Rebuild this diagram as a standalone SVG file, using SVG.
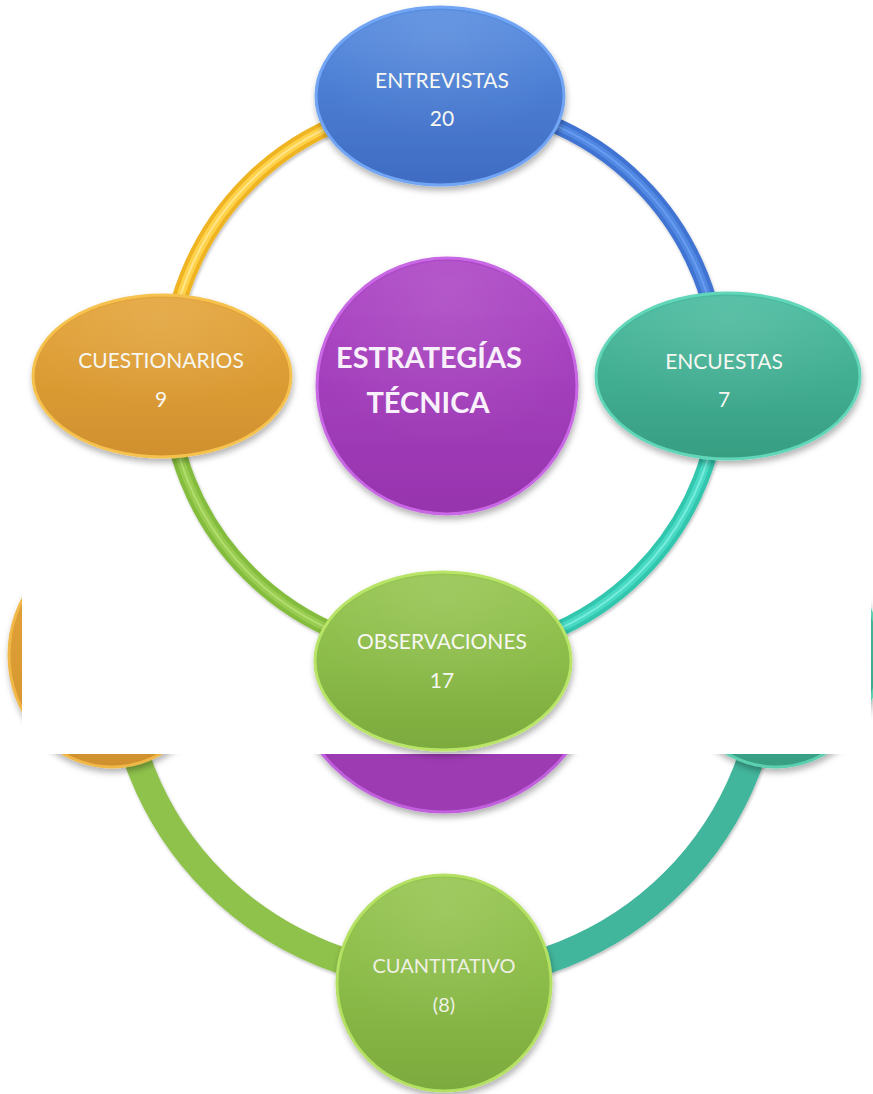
<svg xmlns="http://www.w3.org/2000/svg" width="873" height="1094" viewBox="0 0 873 1094">
<defs>
<filter id="sh" x="-20%" y="-20%" width="140%" height="150%"><feDropShadow dx="1" dy="4" stdDeviation="3" flood-color="#000" flood-opacity="0.3"/></filter>
<filter id="ash" x="-20%" y="-20%" width="140%" height="140%"><feDropShadow dx="1" dy="2" stdDeviation="1.5" flood-color="#000" flood-opacity="0.25"/></filter>
<linearGradient id="gBlue" x1="0" y1="0" x2="0" y2="1"><stop offset="0" stop-color="#5a8ee0"/><stop offset="0.5" stop-color="#4a7cd2"/><stop offset="1" stop-color="#3f6cc2"/></linearGradient>
<linearGradient id="gOrange" x1="0" y1="0" x2="0" y2="1"><stop offset="0" stop-color="#e4a53c"/><stop offset="0.5" stop-color="#dc9c34"/><stop offset="1" stop-color="#d0902e"/></linearGradient>
<linearGradient id="gTeal" x1="0" y1="0" x2="0" y2="1"><stop offset="0" stop-color="#4cbca0"/><stop offset="0.5" stop-color="#42ae92"/><stop offset="1" stop-color="#379e82"/></linearGradient>
<linearGradient id="gPurple" x1="0" y1="0" x2="0" y2="1"><stop offset="0" stop-color="#ae48c6"/><stop offset="0.5" stop-color="#a33ebb"/><stop offset="1" stop-color="#9634ad"/></linearGradient>
<linearGradient id="gGreen" x1="0" y1="0" x2="0" y2="1"><stop offset="0" stop-color="#97c653"/><stop offset="0.5" stop-color="#8bbb48"/><stop offset="1" stop-color="#7caa3e"/></linearGradient>
<radialGradient id="gloss" cx="0.5" cy="0.15" r="0.6"><stop offset="0" stop-color="#fff" stop-opacity="0.1"/><stop offset="1" stop-color="#fff" stop-opacity="0"/></radialGradient>
</defs>
<style>
.lbl{font-family:Lato,"Liberation Sans",sans-serif;font-size:21px;fill:#f7f7f2;text-anchor:middle}
.lbl2{font-family:Lato,"Liberation Sans",sans-serif;font-size:20px;fill:#eef0e4;text-anchor:middle}
.big{font-family:Lato,"Liberation Sans",sans-serif;font-size:29px;font-weight:bold;fill:#f8f0fa;text-anchor:middle}
.node{filter:url(#sh)}
.gl{fill:url(#gloss)}
.tube{fill:none;filter:url(#ash)}
.flat{fill:none;stroke-width:27;filter:url(#ash)}
</style>
<rect width="873" height="1094" fill="#ffffff"/>

<!-- lower (partially hidden) diagram -->
<g id="connectors-lower">
<path class="flat" d="M 119 652 A 325 325 0 0 0 444 977" stroke="#8fc24b"/>
<path class="flat" d="M 444 977 A 325 325 0 0 0 769 652" stroke="#43b69c"/>
</g>
<g id="node-lower-left"><ellipse class="node" cx="112" cy="655" rx="103" ry="112" fill="url(#gOrange)" stroke="#f0b848" stroke-width="3"/></g>
<g id="node-lower-right"><ellipse class="node" cx="776" cy="655" rx="103" ry="112" fill="url(#gTeal)" stroke="#5ccfb0" stroke-width="3"/></g>
<g id="node-lower-center"><ellipse class="node" cx="444" cy="652" rx="158" ry="160" fill="#9c3ab2" stroke="#c060dc" stroke-width="3"/></g>
<g id="node-cuantitativo">
<ellipse class="node" cx="444" cy="983" rx="107" ry="108" fill="url(#gGreen)" stroke="#b4e064" stroke-width="3"/>
<ellipse class="gl" cx="444" cy="983" rx="104" ry="105"/>
<text class="lbl2" x="444" y="973">CUANTITATIVO</text>
<text class="lbl2" x="444" y="1012">(8)</text>
</g>

<!-- upper diagram on its white sheet -->
<rect id="sheet" x="22" y="0" width="849" height="754" fill="#ffffff"/>

<g id="connectors">
<g id="arc-cuestionarios-entrevistas">
<path class="tube" d="M 168 378 A 276 276 0 0 1 444 102" stroke="#efb424" stroke-width="16"/>
<path fill="none" d="M 168 378 A 276 276 0 0 1 444 102" stroke="#ffd24a" stroke-width="8"/>
<path fill="none" d="M 168 378 A 276 276 0 0 1 444 102" stroke="#ffe68c" stroke-width="2"/>
</g>
<g id="arc-entrevistas-encuestas">
<path class="tube" d="M 444 102 A 276 276 0 0 1 720 378" stroke="#3f73d2" stroke-width="16"/>
<path fill="none" d="M 444 102 A 276 276 0 0 1 720 378" stroke="#5088e2" stroke-width="8"/>
<path fill="none" d="M 444 102 A 276 276 0 0 1 720 378" stroke="#6a9cf0" stroke-width="2"/>
</g>
<g id="arc-encuestas-observaciones">
<path class="tube" d="M 720 378 A 276 276 0 0 1 444 654" stroke="#30c6ae" stroke-width="16"/>
<path fill="none" d="M 720 378 A 276 276 0 0 1 444 654" stroke="#48dac4" stroke-width="8"/>
<path fill="none" d="M 720 378 A 276 276 0 0 1 444 654" stroke="#7aecdc" stroke-width="2"/>
</g>
<g id="arc-observaciones-cuestionarios">
<path class="tube" d="M 444 654 A 276 276 0 0 1 168 378" stroke="#84bc3c" stroke-width="16"/>
<path fill="none" d="M 444 654 A 276 276 0 0 1 168 378" stroke="#98cc50" stroke-width="8"/>
<path fill="none" d="M 444 654 A 276 276 0 0 1 168 378" stroke="#b2de70" stroke-width="2"/>
</g>
</g>

<g id="node-entrevistas">
<ellipse class="node" cx="440" cy="96" rx="124" ry="89" fill="url(#gBlue)" stroke="#72a6f4" stroke-width="3"/>
<ellipse class="gl" cx="440" cy="96" rx="121" ry="86"/>
<text class="lbl" x="442" y="88">ENTREVISTAS</text>
<text class="lbl" x="442" y="126">20</text>
</g>
<g id="node-cuestionarios">
<ellipse class="node" cx="162" cy="376" rx="129" ry="81" fill="url(#gOrange)" stroke="#f6c250" stroke-width="3"/>
<ellipse class="gl" cx="162" cy="376" rx="126" ry="78"/>
<text class="lbl" x="161" y="368">CUESTIONARIOS</text>
<text class="lbl" x="161" y="407">9</text>
</g>
<g id="node-encuestas">
<ellipse class="node" cx="728" cy="376" rx="132" ry="83" fill="url(#gTeal)" stroke="#62d6b8" stroke-width="3"/>
<ellipse class="gl" cx="728" cy="376" rx="129" ry="80"/>
<text class="lbl" x="724" y="369">ENCUESTAS</text>
<text class="lbl" x="724" y="407">7</text>
</g>
<g id="node-estrategias">
<ellipse class="node" cx="447" cy="386" rx="130" ry="128" fill="url(#gPurple)" stroke="#c868e4" stroke-width="3"/>
<ellipse class="gl" cx="447" cy="386" rx="127" ry="125"/>
<text class="big" x="429" y="368">ESTRATEGÍAS</text>
<text class="big" x="428" y="413">TÉCNICA</text>
</g>
<g id="node-observaciones">
<ellipse class="node" cx="443" cy="661" rx="128" ry="89" fill="url(#gGreen)" stroke="#b8e468" stroke-width="3"/>
<ellipse class="gl" cx="443" cy="661" rx="125" ry="86"/>
<text class="lbl" x="442" y="649">OBSERVACIONES</text>
<text class="lbl" x="442" y="688">17</text>
</g>
</svg>
